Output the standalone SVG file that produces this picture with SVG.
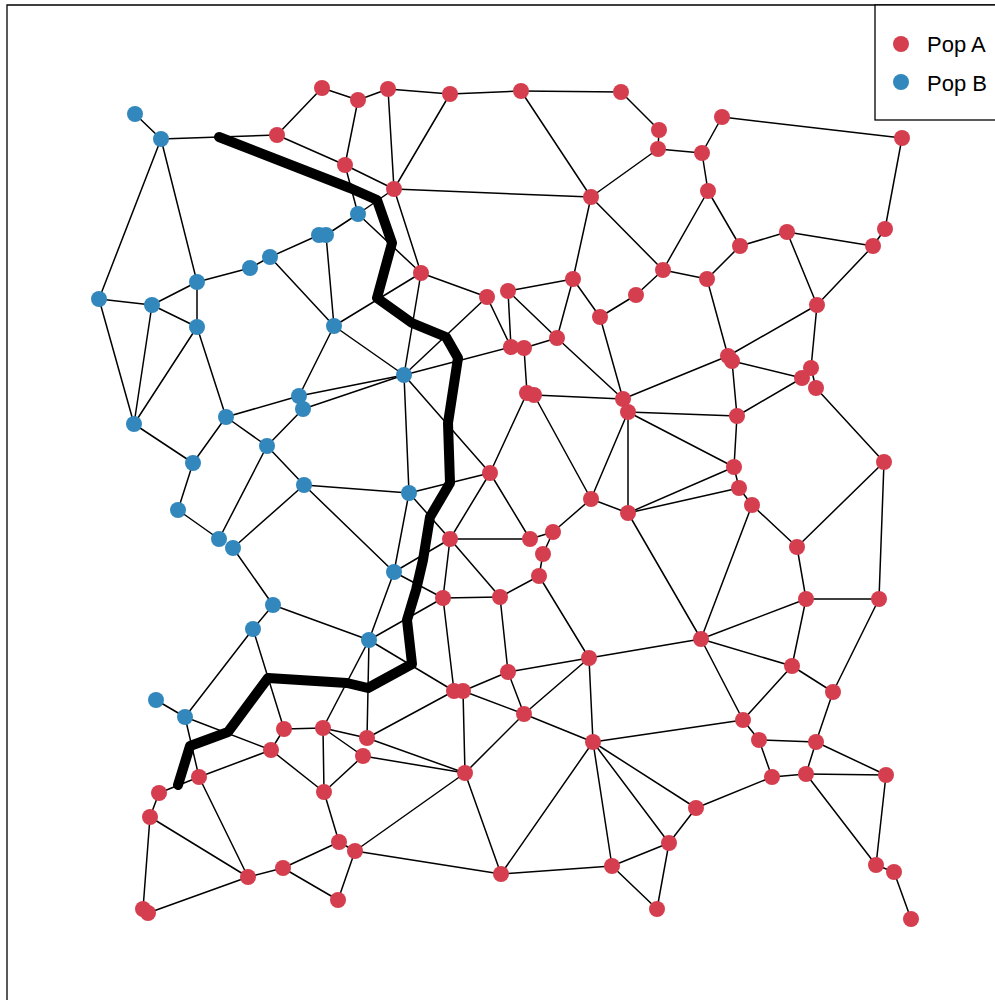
<svg xmlns="http://www.w3.org/2000/svg" width="995" height="1000" viewBox="0 0 995 1000">
  <style>
    .frame { fill: none; stroke: #000; stroke-width: 1.3; }
    .edges line { stroke: #000; stroke-width: 1.5; stroke-linecap: round; }
    .cut { fill: none; stroke: #000; stroke-width: 10; stroke-linecap: round; stroke-linejoin: round; }
    .popA circle { fill: #D53E4F; }
    .popB circle { fill: #3288BD; }
    .legend-text { font-family: "Liberation Sans", Arial, sans-serif; font-size: 22px; fill: #000; }
  </style>
  <rect width="995" height="1000" fill="#fff"/>
  <!-- plot frame -->
  <path class="frame" d="M7,1000 V5 H995"/>

  <!-- connectors -->
  <g id="edges" class="edges">
    <line x1="135" y1="114" x2="161" y2="139"/>
    <line x1="161" y1="139" x2="277" y2="135"/>
    <line x1="161" y1="139" x2="99" y2="299"/>
    <line x1="161" y1="139" x2="197" y2="282"/>
    <line x1="277" y1="135" x2="322" y2="88"/>
    <line x1="322" y1="88" x2="358" y2="100"/>
    <line x1="358" y1="100" x2="388" y2="89"/>
    <line x1="358" y1="100" x2="345" y2="165"/>
    <line x1="277" y1="135" x2="345" y2="165"/>
    <line x1="345" y1="165" x2="394" y2="189"/>
    <line x1="345" y1="165" x2="358" y2="214"/>
    <line x1="388" y1="89" x2="394" y2="189"/>
    <line x1="394" y1="189" x2="358" y2="214"/>
    <line x1="358" y1="214" x2="326" y2="235"/>
    <line x1="358" y1="214" x2="421" y2="273"/>
    <line x1="319" y1="235" x2="270" y2="257"/>
    <line x1="270" y1="257" x2="250" y2="268"/>
    <line x1="250" y1="268" x2="197" y2="282"/>
    <line x1="326" y1="235" x2="334" y2="326"/>
    <line x1="270" y1="257" x2="334" y2="326"/>
    <line x1="334" y1="326" x2="421" y2="273"/>
    <line x1="334" y1="326" x2="404" y2="375"/>
    <line x1="334" y1="326" x2="299" y2="396"/>
    <line x1="197" y1="282" x2="152" y2="305"/>
    <line x1="99" y1="299" x2="152" y2="305"/>
    <line x1="197" y1="282" x2="197" y2="327"/>
    <line x1="152" y1="305" x2="197" y2="327"/>
    <line x1="99" y1="299" x2="134" y2="424"/>
    <line x1="152" y1="305" x2="134" y2="424"/>
    <line x1="197" y1="327" x2="134" y2="424"/>
    <line x1="197" y1="327" x2="226" y2="417"/>
    <line x1="134" y1="424" x2="193" y2="463"/>
    <line x1="226" y1="417" x2="193" y2="463"/>
    <line x1="226" y1="417" x2="267" y2="446"/>
    <line x1="226" y1="417" x2="299" y2="396"/>
    <line x1="299" y1="396" x2="404" y2="375"/>
    <line x1="303" y1="409" x2="404" y2="375"/>
    <line x1="303" y1="409" x2="267" y2="446"/>
    <line x1="267" y1="446" x2="304" y2="485"/>
    <line x1="267" y1="446" x2="219" y2="539"/>
    <line x1="193" y1="463" x2="178" y2="510"/>
    <line x1="178" y1="510" x2="219" y2="539"/>
    <line x1="304" y1="485" x2="233" y2="548"/>
    <line x1="304" y1="485" x2="409" y2="493"/>
    <line x1="304" y1="485" x2="394" y2="572"/>
    <line x1="233" y1="548" x2="273" y2="605"/>
    <line x1="273" y1="605" x2="253" y2="629"/>
    <line x1="273" y1="605" x2="369" y2="640"/>
    <line x1="394" y1="572" x2="369" y2="640"/>
    <line x1="253" y1="629" x2="185" y2="717"/>
    <line x1="253" y1="629" x2="284" y2="729"/>
    <line x1="369" y1="640" x2="323" y2="728"/>
    <line x1="369" y1="640" x2="367" y2="738"/>
    <line x1="369" y1="640" x2="454" y2="691"/>
    <line x1="369" y1="640" x2="443" y2="598"/>
    <line x1="394" y1="572" x2="409" y2="493"/>
    <line x1="394" y1="572" x2="450" y2="539"/>
    <line x1="394" y1="572" x2="443" y2="598"/>
    <line x1="409" y1="493" x2="404" y2="375"/>
    <line x1="409" y1="493" x2="490" y2="473"/>
    <line x1="409" y1="493" x2="450" y2="539"/>
    <line x1="404" y1="375" x2="421" y2="273"/>
    <line x1="404" y1="375" x2="487" y2="297"/>
    <line x1="404" y1="375" x2="511" y2="347"/>
    <line x1="404" y1="375" x2="490" y2="473"/>
    <line x1="156" y1="700" x2="185" y2="717"/>
    <line x1="185" y1="717" x2="271" y2="750"/>
    <line x1="185" y1="717" x2="199" y2="777"/>

    <line x1="388" y1="89" x2="450" y2="94"/>
    <line x1="450" y1="94" x2="521" y2="91"/>
    <line x1="521" y1="91" x2="621" y2="92"/>
    <line x1="621" y1="92" x2="659" y2="130"/>
    <line x1="659" y1="130" x2="658" y2="149"/>
    <line x1="658" y1="149" x2="702" y2="153"/>
    <line x1="450" y1="94" x2="394" y2="189"/>
    <line x1="394" y1="189" x2="591" y2="197"/>
    <line x1="521" y1="91" x2="591" y2="197"/>
    <line x1="658" y1="149" x2="591" y2="197"/>
    <line x1="591" y1="197" x2="573" y2="279"/>
    <line x1="591" y1="197" x2="663" y2="270"/>
    <line x1="663" y1="270" x2="708" y2="191"/>
    <line x1="663" y1="270" x2="707" y2="279"/>
    <line x1="663" y1="270" x2="636" y2="295"/>
    <line x1="636" y1="295" x2="600" y2="317"/>
    <line x1="573" y1="279" x2="600" y2="317"/>
    <line x1="573" y1="279" x2="557" y2="338"/>
    <line x1="508" y1="291" x2="573" y2="279"/>
    <line x1="394" y1="189" x2="421" y2="273"/>
    <line x1="421" y1="273" x2="487" y2="297"/>
    <line x1="487" y1="297" x2="511" y2="347"/>
    <line x1="508" y1="291" x2="511" y2="347"/>
    <line x1="508" y1="291" x2="557" y2="338"/>
    <line x1="557" y1="338" x2="524" y2="348"/>
    <line x1="524" y1="348" x2="527" y2="393"/>
    <line x1="557" y1="338" x2="623" y2="399"/>
    <line x1="600" y1="317" x2="623" y2="399"/>
    <line x1="702" y1="153" x2="722" y2="117"/>
    <line x1="722" y1="117" x2="902" y2="138"/>
    <line x1="902" y1="138" x2="885" y2="229"/>
    <line x1="885" y1="229" x2="873" y2="246"/>
    <line x1="702" y1="153" x2="708" y2="191"/>
    <line x1="708" y1="191" x2="740" y2="246"/>
    <line x1="740" y1="246" x2="787" y2="232"/>
    <line x1="787" y1="232" x2="873" y2="246"/>
    <line x1="873" y1="246" x2="817" y2="305"/>
    <line x1="787" y1="232" x2="817" y2="305"/>
    <line x1="740" y1="246" x2="707" y2="279"/>
    <line x1="707" y1="279" x2="728" y2="356"/>
    <line x1="817" y1="305" x2="728" y2="356"/>
    <line x1="817" y1="305" x2="811" y2="368"/>
    <line x1="732" y1="361" x2="802" y2="378"/>
    <line x1="811" y1="368" x2="816" y2="388"/>
    <line x1="816" y1="388" x2="884" y2="462"/>
    <line x1="732" y1="361" x2="737" y2="416"/>
    <line x1="802" y1="378" x2="737" y2="416"/>
    <line x1="623" y1="399" x2="728" y2="356"/>
    <line x1="534" y1="395" x2="623" y2="399"/>
    <line x1="628" y1="412" x2="737" y2="416"/>
    <line x1="628" y1="412" x2="734" y2="467"/>
    <line x1="628" y1="412" x2="628" y2="513"/>
    <line x1="628" y1="412" x2="591" y2="499"/>
    <line x1="534" y1="395" x2="591" y2="499"/>
    <line x1="527" y1="393" x2="490" y2="473"/>
    <line x1="737" y1="416" x2="734" y2="467"/>
    <line x1="734" y1="467" x2="628" y2="513"/>
    <line x1="739" y1="488" x2="628" y2="513"/>
    <line x1="734" y1="467" x2="739" y2="488"/>
    <line x1="739" y1="488" x2="752" y2="505"/>
    <line x1="752" y1="505" x2="701" y2="639"/>
    <line x1="752" y1="505" x2="797" y2="547"/>
    <line x1="797" y1="547" x2="884" y2="462"/>
    <line x1="884" y1="462" x2="879" y2="599"/>
    <line x1="797" y1="547" x2="806" y2="599"/>
    <line x1="806" y1="599" x2="879" y2="599"/>
    <line x1="806" y1="599" x2="701" y2="639"/>
    <line x1="806" y1="599" x2="792" y2="666"/>
    <line x1="701" y1="639" x2="792" y2="666"/>
    <line x1="701" y1="639" x2="589" y2="658"/>
    <line x1="701" y1="639" x2="743" y2="720"/>
    <line x1="701" y1="639" x2="628" y2="513"/>
    <line x1="792" y1="666" x2="833" y2="692"/>
    <line x1="879" y1="599" x2="833" y2="692"/>
    <line x1="792" y1="666" x2="743" y2="720"/>
    <line x1="743" y1="720" x2="593" y2="742"/>
    <line x1="743" y1="720" x2="759" y2="740"/>
    <line x1="759" y1="740" x2="816" y2="742"/>
    <line x1="759" y1="740" x2="772" y2="777"/>
    <line x1="833" y1="692" x2="816" y2="742"/>
    <line x1="816" y1="742" x2="806" y2="774"/>
    <line x1="816" y1="742" x2="886" y2="775"/>
    <line x1="772" y1="777" x2="806" y2="774"/>
    <line x1="806" y1="774" x2="886" y2="775"/>
    <line x1="772" y1="777" x2="696" y2="808"/>
    <line x1="696" y1="808" x2="593" y2="742"/>
    <line x1="696" y1="808" x2="669" y2="843"/>
    <line x1="806" y1="774" x2="876" y2="865"/>
    <line x1="886" y1="775" x2="876" y2="865"/>
    <line x1="876" y1="865" x2="894" y2="872"/>
    <line x1="894" y1="872" x2="911" y2="919"/>

    <line x1="490" y1="473" x2="450" y2="539"/>
    <line x1="490" y1="473" x2="530" y2="539"/>
    <line x1="591" y1="499" x2="628" y2="513"/>
    <line x1="591" y1="499" x2="553" y2="532"/>
    <line x1="450" y1="539" x2="530" y2="539"/>
    <line x1="530" y1="539" x2="553" y2="532"/>
    <line x1="553" y1="532" x2="543" y2="554"/>
    <line x1="543" y1="554" x2="539" y2="576"/>
    <line x1="539" y1="576" x2="500" y2="597"/>
    <line x1="539" y1="576" x2="589" y2="658"/>
    <line x1="450" y1="539" x2="500" y2="597"/>
    <line x1="450" y1="539" x2="443" y2="598"/>
    <line x1="443" y1="598" x2="500" y2="597"/>
    <line x1="500" y1="597" x2="508" y2="672"/>
    <line x1="508" y1="672" x2="589" y2="658"/>
    <line x1="443" y1="598" x2="454" y2="691"/>
    <line x1="463" y1="691" x2="508" y2="672"/>
    <line x1="463" y1="691" x2="524" y2="714"/>
    <line x1="508" y1="672" x2="524" y2="714"/>
    <line x1="524" y1="714" x2="589" y2="658"/>
    <line x1="524" y1="714" x2="593" y2="742"/>
    <line x1="589" y1="658" x2="593" y2="742"/>
    <line x1="593" y1="742" x2="501" y2="874"/>
    <line x1="593" y1="742" x2="612" y2="866"/>
    <line x1="593" y1="742" x2="669" y2="843"/>
    <line x1="669" y1="843" x2="612" y2="866"/>
    <line x1="669" y1="843" x2="657" y2="909"/>
    <line x1="612" y1="866" x2="657" y2="909"/>
    <line x1="501" y1="874" x2="612" y2="866"/>
    <line x1="465" y1="773" x2="501" y2="874"/>
    <line x1="463" y1="691" x2="465" y2="773"/>
    <line x1="524" y1="714" x2="465" y2="773"/>
    <line x1="454" y1="691" x2="367" y2="738"/>
    <line x1="367" y1="738" x2="465" y2="773"/>
    <line x1="363" y1="756" x2="465" y2="773"/>
    <line x1="355" y1="851" x2="465" y2="773"/>
    <line x1="355" y1="851" x2="501" y2="874"/>

    <line x1="284" y1="729" x2="323" y2="728"/>
    <line x1="284" y1="729" x2="271" y2="750"/>
    <line x1="323" y1="728" x2="367" y2="738"/>
    <line x1="323" y1="728" x2="363" y2="756"/>
    <line x1="323" y1="728" x2="324" y2="792"/>
    <line x1="363" y1="756" x2="324" y2="792"/>
    <line x1="271" y1="750" x2="324" y2="792"/>
    <line x1="271" y1="750" x2="199" y2="777"/>
    <line x1="199" y1="777" x2="159" y2="793"/>
    <line x1="159" y1="793" x2="150" y2="817"/>
    <line x1="199" y1="777" x2="248" y2="877"/>
    <line x1="150" y1="817" x2="248" y2="877"/>
    <line x1="150" y1="817" x2="143" y2="909"/>
    <line x1="148" y1="913" x2="248" y2="877"/>
    <line x1="248" y1="877" x2="283" y2="868"/>
    <line x1="283" y1="868" x2="339" y2="842"/>
    <line x1="283" y1="868" x2="338" y2="900"/>
    <line x1="339" y1="842" x2="355" y2="851"/>
    <line x1="355" y1="851" x2="338" y2="900"/>
    <line x1="324" y1="792" x2="339" y2="842"/>
  </g>

  <!-- heavy boundary polyline -->
  <g id="boundary">
    <polyline class="cut" points="219,137 350,188 377,200 392,243 377,298 412,323 446,337 458,358 448,423 450,483 430,517 423,560 416,590 407,620 412,664 368,688 347,683 268,678 228,732 190,746 178,785"/>
  </g>

  <!-- Pop B nodes -->
  <g id="node-b1" class="popB"><circle cx="135" cy="114" r="8"/></g>
  <g id="node-b2" class="popB"><circle cx="161" cy="139" r="8"/></g>
  <g id="node-b3" class="popB"><circle cx="358" cy="214" r="8"/></g>
  <g id="node-b4" class="popB"><circle cx="319" cy="235" r="8"/></g>
  <g id="node-b5" class="popB"><circle cx="326" cy="235" r="8"/></g>
  <g id="node-b6" class="popB"><circle cx="270" cy="257" r="8"/></g>
  <g id="node-b7" class="popB"><circle cx="250" cy="268" r="8"/></g>
  <g id="node-b8" class="popB"><circle cx="197" cy="282" r="8"/></g>
  <g id="node-b9" class="popB"><circle cx="99" cy="299" r="8"/></g>
  <g id="node-b10" class="popB"><circle cx="152" cy="305" r="8"/></g>
  <g id="node-b11" class="popB"><circle cx="197" cy="327" r="8"/></g>
  <g id="node-b12" class="popB"><circle cx="334" cy="326" r="8"/></g>
  <g id="node-b13" class="popB"><circle cx="404" cy="375" r="8"/></g>
  <g id="node-b14" class="popB"><circle cx="134" cy="424" r="8"/></g>
  <g id="node-b15" class="popB"><circle cx="226" cy="417" r="8"/></g>
  <g id="node-b16" class="popB"><circle cx="299" cy="396" r="8"/></g>
  <g id="node-b17" class="popB"><circle cx="303" cy="409" r="8"/></g>
  <g id="node-b18" class="popB"><circle cx="267" cy="446" r="8"/></g>
  <g id="node-b19" class="popB"><circle cx="193" cy="463" r="8"/></g>
  <g id="node-b20" class="popB"><circle cx="304" cy="485" r="8"/></g>
  <g id="node-b21" class="popB"><circle cx="178" cy="510" r="8"/></g>
  <g id="node-b22" class="popB"><circle cx="219" cy="539" r="8"/></g>
  <g id="node-b23" class="popB"><circle cx="233" cy="548" r="8"/></g>
  <g id="node-b24" class="popB"><circle cx="394" cy="572" r="8"/></g>
  <g id="node-b25" class="popB"><circle cx="273" cy="605" r="8"/></g>
  <g id="node-b26" class="popB"><circle cx="253" cy="629" r="8"/></g>
  <g id="node-b27" class="popB"><circle cx="369" cy="640" r="8"/></g>
  <g id="node-b28" class="popB"><circle cx="409" cy="493" r="8"/></g>
  <g id="node-b29" class="popB"><circle cx="156" cy="700" r="8"/></g>
  <g id="node-b30" class="popB"><circle cx="185" cy="717" r="8"/></g>

  <!-- Pop A nodes -->
  <g id="node-a1" class="popA"><circle cx="322" cy="88" r="8"/></g>
  <g id="node-a2" class="popA"><circle cx="358" cy="100" r="8"/></g>
  <g id="node-a3" class="popA"><circle cx="388" cy="89" r="8"/></g>
  <g id="node-a4" class="popA"><circle cx="450" cy="94" r="8"/></g>
  <g id="node-a5" class="popA"><circle cx="521" cy="91" r="8"/></g>
  <g id="node-a6" class="popA"><circle cx="621" cy="92" r="8"/></g>
  <g id="node-a7" class="popA"><circle cx="659" cy="130" r="8"/></g>
  <g id="node-a8" class="popA"><circle cx="658" cy="149" r="8"/></g>
  <g id="node-a9" class="popA"><circle cx="702" cy="153" r="8"/></g>
  <g id="node-a10" class="popA"><circle cx="722" cy="117" r="8"/></g>
  <g id="node-a11" class="popA"><circle cx="902" cy="138" r="8"/></g>
  <g id="node-a12" class="popA"><circle cx="708" cy="191" r="8"/></g>
  <g id="node-a13" class="popA"><circle cx="885" cy="229" r="8"/></g>
  <g id="node-a14" class="popA"><circle cx="873" cy="246" r="8"/></g>
  <g id="node-a15" class="popA"><circle cx="787" cy="232" r="8"/></g>
  <g id="node-a16" class="popA"><circle cx="740" cy="246" r="8"/></g>
  <g id="node-a17" class="popA"><circle cx="707" cy="279" r="8"/></g>
  <g id="node-a18" class="popA"><circle cx="817" cy="305" r="8"/></g>
  <g id="node-a19" class="popA"><circle cx="728" cy="356" r="8"/></g>
  <g id="node-a20" class="popA"><circle cx="732" cy="361" r="8"/></g>
  <g id="node-a21" class="popA"><circle cx="811" cy="368" r="8"/></g>
  <g id="node-a22" class="popA"><circle cx="802" cy="378" r="8"/></g>
  <g id="node-a23" class="popA"><circle cx="816" cy="388" r="8"/></g>
  <g id="node-a24" class="popA"><circle cx="277" cy="135" r="8"/></g>
  <g id="node-a25" class="popA"><circle cx="345" cy="165" r="8"/></g>
  <g id="node-a26" class="popA"><circle cx="394" cy="189" r="8"/></g>
  <g id="node-a27" class="popA"><circle cx="591" cy="197" r="8"/></g>
  <g id="node-a28" class="popA"><circle cx="421" cy="273" r="8"/></g>
  <g id="node-a29" class="popA"><circle cx="487" cy="297" r="8"/></g>
  <g id="node-a30" class="popA"><circle cx="508" cy="291" r="8"/></g>
  <g id="node-a31" class="popA"><circle cx="573" cy="279" r="8"/></g>
  <g id="node-a32" class="popA"><circle cx="663" cy="270" r="8"/></g>
  <g id="node-a33" class="popA"><circle cx="636" cy="295" r="8"/></g>
  <g id="node-a34" class="popA"><circle cx="600" cy="317" r="8"/></g>
  <g id="node-a35" class="popA"><circle cx="557" cy="338" r="8"/></g>
  <g id="node-a36" class="popA"><circle cx="511" cy="347" r="8"/></g>
  <g id="node-a37" class="popA"><circle cx="524" cy="348" r="8"/></g>
  <g id="node-a38" class="popA"><circle cx="527" cy="393" r="8"/></g>
  <g id="node-a39" class="popA"><circle cx="534" cy="395" r="8"/></g>
  <g id="node-a40" class="popA"><circle cx="623" cy="399" r="8"/></g>
  <g id="node-a41" class="popA"><circle cx="628" cy="412" r="8"/></g>
  <g id="node-a42" class="popA"><circle cx="737" cy="416" r="8"/></g>
  <g id="node-a43" class="popA"><circle cx="884" cy="462" r="8"/></g>
  <g id="node-a44" class="popA"><circle cx="734" cy="467" r="8"/></g>
  <g id="node-a45" class="popA"><circle cx="739" cy="488" r="8"/></g>
  <g id="node-a46" class="popA"><circle cx="752" cy="505" r="8"/></g>
  <g id="node-a47" class="popA"><circle cx="797" cy="547" r="8"/></g>
  <g id="node-a48" class="popA"><circle cx="806" cy="599" r="8"/></g>
  <g id="node-a49" class="popA"><circle cx="879" cy="599" r="8"/></g>
  <g id="node-a50" class="popA"><circle cx="701" cy="639" r="8"/></g>
  <g id="node-a51" class="popA"><circle cx="792" cy="666" r="8"/></g>
  <g id="node-a52" class="popA"><circle cx="833" cy="692" r="8"/></g>
  <g id="node-a53" class="popA"><circle cx="743" cy="720" r="8"/></g>
  <g id="node-a54" class="popA"><circle cx="759" cy="740" r="8"/></g>
  <g id="node-a55" class="popA"><circle cx="816" cy="742" r="8"/></g>
  <g id="node-a56" class="popA"><circle cx="772" cy="777" r="8"/></g>
  <g id="node-a57" class="popA"><circle cx="806" cy="774" r="8"/></g>
  <g id="node-a58" class="popA"><circle cx="886" cy="775" r="8"/></g>
  <g id="node-a59" class="popA"><circle cx="696" cy="808" r="8"/></g>
  <g id="node-a60" class="popA"><circle cx="876" cy="865" r="8"/></g>
  <g id="node-a61" class="popA"><circle cx="894" cy="872" r="8"/></g>
  <g id="node-a62" class="popA"><circle cx="911" cy="919" r="8"/></g>
  <g id="node-a63" class="popA"><circle cx="490" cy="473" r="8"/></g>
  <g id="node-a64" class="popA"><circle cx="591" cy="499" r="8"/></g>
  <g id="node-a65" class="popA"><circle cx="628" cy="513" r="8"/></g>
  <g id="node-a66" class="popA"><circle cx="450" cy="539" r="8"/></g>
  <g id="node-a67" class="popA"><circle cx="530" cy="539" r="8"/></g>
  <g id="node-a68" class="popA"><circle cx="553" cy="532" r="8"/></g>
  <g id="node-a69" class="popA"><circle cx="543" cy="554" r="8"/></g>
  <g id="node-a70" class="popA"><circle cx="539" cy="576" r="8"/></g>
  <g id="node-a71" class="popA"><circle cx="443" cy="598" r="8"/></g>
  <g id="node-a72" class="popA"><circle cx="500" cy="597" r="8"/></g>
  <g id="node-a73" class="popA"><circle cx="589" cy="658" r="8"/></g>
  <g id="node-a74" class="popA"><circle cx="508" cy="672" r="8"/></g>
  <g id="node-a75" class="popA"><circle cx="454" cy="691" r="8"/></g>
  <g id="node-a76" class="popA"><circle cx="463" cy="691" r="8"/></g>
  <g id="node-a77" class="popA"><circle cx="524" cy="714" r="8"/></g>
  <g id="node-a78" class="popA"><circle cx="593" cy="742" r="8"/></g>
  <g id="node-a79" class="popA"><circle cx="465" cy="773" r="8"/></g>
  <g id="node-a80" class="popA"><circle cx="501" cy="874" r="8"/></g>
  <g id="node-a81" class="popA"><circle cx="612" cy="866" r="8"/></g>
  <g id="node-a82" class="popA"><circle cx="669" cy="843" r="8"/></g>
  <g id="node-a83" class="popA"><circle cx="657" cy="909" r="8"/></g>
  <g id="node-a84" class="popA"><circle cx="284" cy="729" r="8"/></g>
  <g id="node-a85" class="popA"><circle cx="323" cy="728" r="8"/></g>
  <g id="node-a86" class="popA"><circle cx="367" cy="738" r="8"/></g>
  <g id="node-a87" class="popA"><circle cx="271" cy="750" r="8"/></g>
  <g id="node-a88" class="popA"><circle cx="363" cy="756" r="8"/></g>
  <g id="node-a89" class="popA"><circle cx="199" cy="777" r="8"/></g>
  <g id="node-a90" class="popA"><circle cx="159" cy="793" r="8"/></g>
  <g id="node-a91" class="popA"><circle cx="324" cy="792" r="8"/></g>
  <g id="node-a92" class="popA"><circle cx="150" cy="817" r="8"/></g>
  <g id="node-a93" class="popA"><circle cx="339" cy="842" r="8"/></g>
  <g id="node-a94" class="popA"><circle cx="355" cy="851" r="8"/></g>
  <g id="node-a95" class="popA"><circle cx="283" cy="868" r="8"/></g>
  <g id="node-a96" class="popA"><circle cx="248" cy="877" r="8"/></g>
  <g id="node-a97" class="popA"><circle cx="338" cy="900" r="8"/></g>
  <g id="node-a98" class="popA"><circle cx="143" cy="909" r="8"/></g>
  <g id="node-a99" class="popA"><circle cx="148" cy="913" r="8"/></g>

  <!-- legend -->
  <g id="legend">
    <rect x="875" y="5" width="130" height="115" fill="#fff" stroke="#000" stroke-width="1.3"/>
    <g class="popA"><circle cx="901" cy="44" r="8"/></g>
    <text class="legend-text" x="927" y="52">Pop A</text>
    <g class="popB"><circle cx="901" cy="82" r="8"/></g>
    <text class="legend-text" x="927" y="91">Pop B</text>
  </g>
</svg>
